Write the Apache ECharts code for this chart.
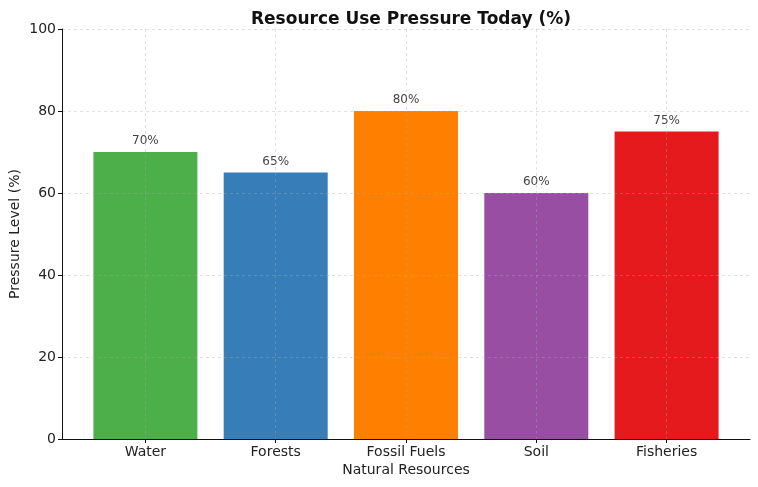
<!DOCTYPE html>
<html>
<head>
<meta charset="utf-8">
<script src="https://cdn.jsdelivr.net/npm/echarts@6/dist/echarts.min.js"></script>
<style>
  html, body { margin: 0; padding: 0; background: #fff; }
  #chart { width: 758px; height: 487px; }
</style>
</head>
<body>
<div id="chart"></div>
<script>
  // data
  var categories = ['Water', 'Forests', 'Fossil Fuels', 'Soil', 'Fisheries'];
  var pressure = [70, 65, 80, 60, 75];
  var barColors = ['#4daf4a', '#377eb8', '#ff7f00', '#984ea3', '#e41a1c'];
  var yTicks = [0, 20, 40, 60, 80, 100];

  var positions = categories.map(function (c, i) { return i; });
  var font = 'DejaVu Sans';
  var gridColor = 'rgba(170,170,170,0.45)';

  var chart = echarts.init(document.getElementById('chart'));
  chart.setOption({
    animation: false,
    textStyle: { fontFamily: font },
    title: {
      text: 'Resource Use Pressure Today (%)',
      left: 406,
      textAlign: 'center',
      top: 6,
      textStyle: { fontFamily: font, fontSize: 17, fontWeight: 'bold', color: '#111' }
    },
    grid: { left: 62, right: 8, top: 29, bottom: 48, outerBoundsMode: 'none', containLabel: false },
    xAxis: {
      type: 'value',
      min: -0.64,
      max: 4.64,
      z: 3,
      name: 'Natural Resources',
      nameLocation: 'middle',
      nameGap: 24,
      nameMoveOverlap: false,
      nameTextStyle: { fontFamily: font, fontSize: 14, color: '#222' },
      axisLine: { onZero: false, lineStyle: { color: '#111', width: 1 } },
      axisTick: { show: true, length: 4, inside: false, customValues: positions, lineStyle: { color: '#111' } },
      axisLabel: {
        customValues: positions,
        fontFamily: font, fontSize: 14, color: '#222', margin: 6,
        formatter: function (v) { return categories[Math.round(v)]; }
      },
      splitLine: { show: true, lineStyle: { color: gridColor, type: [3, 3], width: 0.8 } }
    },
    yAxis: {
      type: 'value',
      min: 0,
      max: 100,
      interval: 20,
      z: 3,
      name: 'Pressure Level (%)',
      nameLocation: 'middle',
      nameGap: 40,
      nameMoveOverlap: false,
      nameTextStyle: { fontFamily: font, fontSize: 14, color: '#222' },
      axisLine: { show: true, onZero: false, lineStyle: { color: '#111', width: 1 } },
      axisTick: { show: true, length: 4, lineStyle: { color: '#111' } },
      axisLabel: {
        fontFamily: font, fontSize: 14, color: '#222', margin: 6,
        formatter: function (v) { return yTicks.indexOf(v) >= 0 ? String(v) : ''; }
      },
      splitLine: { show: true, lineStyle: { color: gridColor, type: [3, 3], width: 0.8 } }
    },
    series: [{
      type: 'bar',
      barWidth: 104,
      data: pressure.map(function (v, i) {
        return { value: [i, v], itemStyle: { color: barColors[i] } };
      }),
      label: {
        show: true,
        position: 'top',
        distance: 5,
        fontFamily: font,
        fontSize: 12,
        color: '#444',
        formatter: function (p) { return p.value[1] + '%'; }
      }
    }]
  });
</script>
</body>
</html>
